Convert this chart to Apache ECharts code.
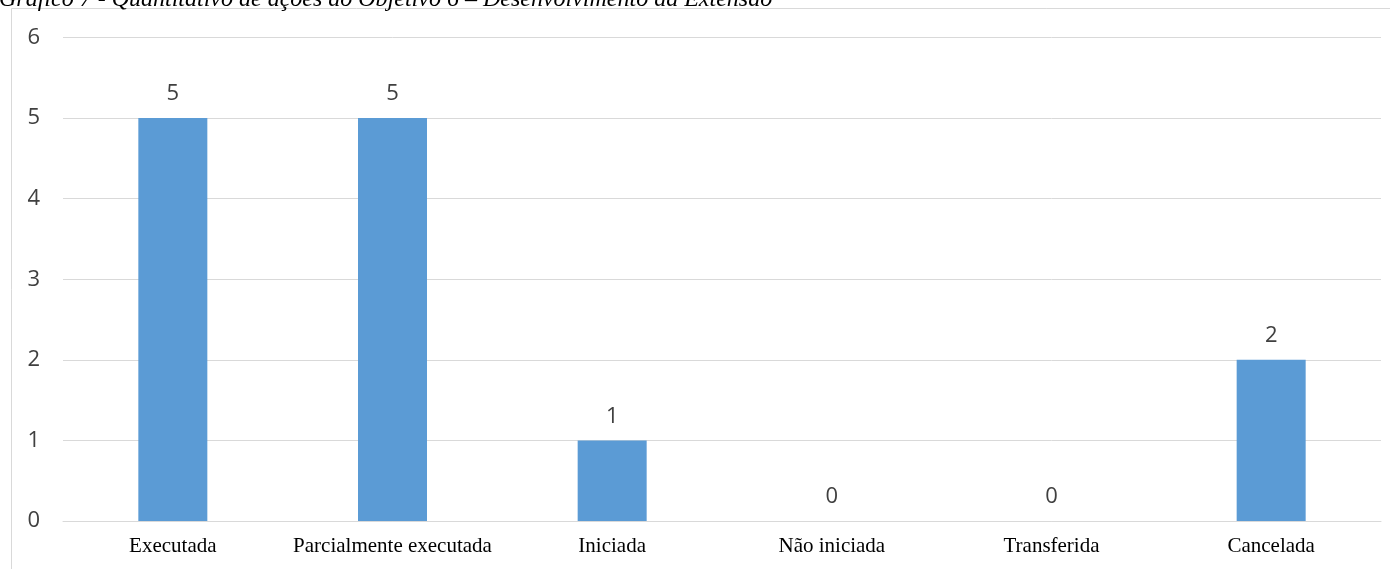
<!DOCTYPE html>
<html><head><meta charset="utf-8">
<script src="https://cdn.jsdelivr.net/npm/echarts@6/dist/echarts.min.js"></script>
<style>html,body{margin:0;padding:0;background:#fff}#c{width:1390px;height:569px}</style>
</head><body><div id="c"></div>
<script>
const titleText = 'Gráfico 7 - Quantitativo de ações do Objetivo 6 – Desenvolvimento da Extensão';
const categories = ['Executada', 'Parcialmente executada', 'Iniciada', 'Não iniciada', 'Transferida', 'Cancelada'];
const values = [5, 5, 1, 0, 0, 2];
const yTicks = [0, 1, 2, 3, 4, 5, 6];

const chart = echarts.init(document.getElementById('c'), null, {renderer: 'canvas'});
chart.setOption({
  animation: false,
  backgroundColor: '#fff',
  graphic: [
    {type: 'rect', z: -1, shape: {x: 11.5, y: 8.5, width: 1400, height: 600}, style: {fill: 'none', stroke: '#d9d9d9', lineWidth: 1}},
    {type: 'text', left: -1, top: -12, style: {text: titleText, font: 'italic 24px "Liberation Serif", serif', fill: '#000'}}
  ],
  grid: {left: 63, right: 9, top: 37.5, bottom: 48},
  xAxis: {
    type: 'category', data: categories,
    axisLine: {show: true, lineStyle: {color: '#d9d9d9', width: 1}},
    axisTick: {show: false},
    axisLabel: {interval: 0, color: '#000', fontFamily: '"Liberation Serif", serif', fontSize: 21, margin: 15}
  },
  yAxis: {
    type: 'value', min: yTicks[0], max: yTicks[yTicks.length - 1], interval: 1,
    axisLine: {show: false}, axisTick: {show: false},
    splitLine: {lineStyle: {color: '#d9d9d9', width: 1}},
    axisLabel: {color: '#404040', fontFamily: '"Open Sans", sans-serif', fontSize: 22, margin: 23}
  },
  series: [{
    type: 'bar', data: values, barWidth: 69,
    itemStyle: {color: '#5b9bd5'},
    label: {show: true, position: 'top', distance: 13, color: '#404040', fontFamily: '"Open Sans", sans-serif', fontSize: 22}
  }]
});
</script></body></html>
